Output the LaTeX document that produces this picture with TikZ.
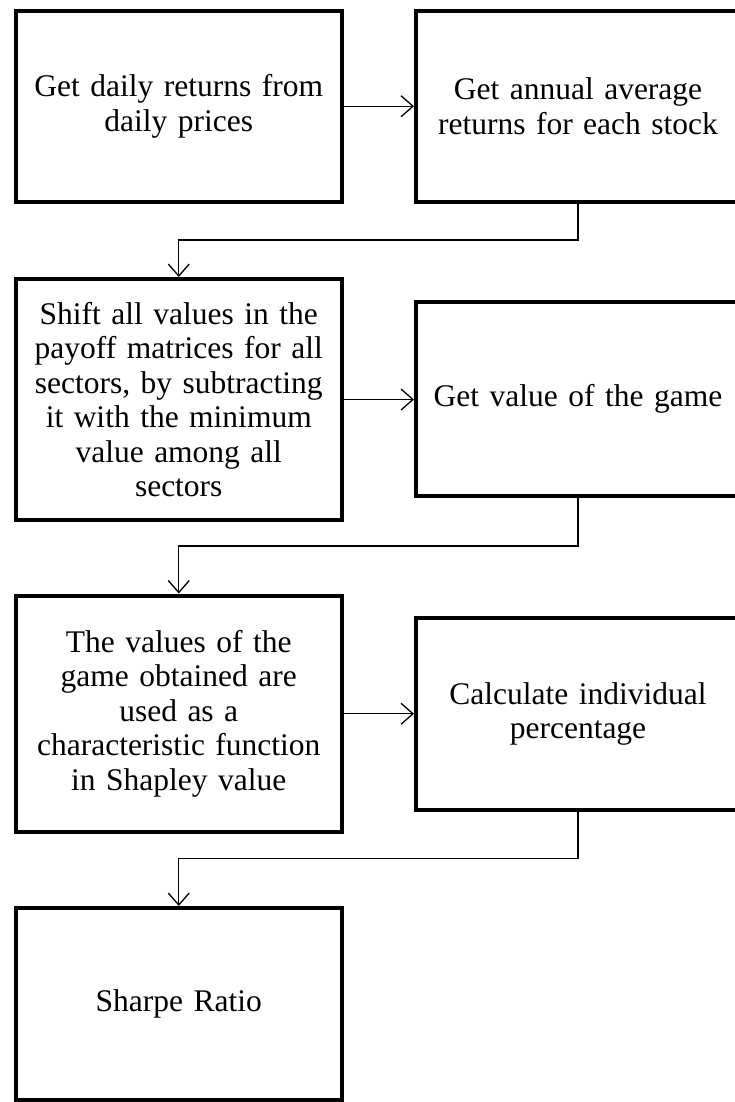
\documentclass[tikz,border=0pt]{standalone}
\usepackage{fontspec}
\setmainfont{Liberation Serif}
\usetikzlibrary{arrows.meta}
\begin{document}
\begin{tikzpicture}[x=1pt,y=-1pt,
  box/.style={draw, line width=4pt, rectangle, inner sep=0pt, align=center,
    text width=318pt, font=\fontsize{31.5}{34.5}\selectfont},
  lbox/.style={box, minimum width=325.5pt},
  rbox/.style={box, minimum width=324pt},
  conn/.style={line width=1.3pt, -{Straight Barb[length=12pt,width=21pt,line width=1.3pt]}}]
\useasboundingbox (0,0) rectangle (735,1102);
\node[lbox, minimum height=190.5pt] (b1) at (178.75,106.25) {Get daily returns from\\daily prices};
\node[rbox, minimum height=190.5pt] (b2) at (578,106.25) {Get annual average\\returns for each stock};
\node[lbox, minimum height=241pt] (b3) at (178.75,399.5) {Shift all values in the\\payoff matrices for all\\sectors, by subtracting\\it with the minimum\\value among all\\sectors};
\node[rbox, minimum height=193.5pt] (b4) at (578,398.75) {Get value of the game};
\node[lbox, minimum height=236.5pt] (b5) at (178.75,713.75) {The values of the\\game obtained are\\used as a\\characteristic function\\in Shapley value};
\node[rbox, minimum height=192.5pt] (b6) at (578,713.75) {Calculate individual\\percentage};
\node[lbox, minimum height=192pt] (b7) at (178.75,1004) {Sharpe Ratio};
\coordinate (k1) at (0,240);
\coordinate (k2) at (0,546);
\coordinate (k3) at (0,858.5);
\draw[conn] (b1.east) -- (b2.west |- b1.east);
\draw[conn] (b3.east) -- (b4.west |- b3.east);
\draw[conn] (b5.east) -- (b6.west |- b5.east);
\draw[conn] (b2.south) -- (b2.south |- k1) -- (b3.north |- k1) -- (b3.north);
\draw[conn] (b4.south) -- (b4.south |- k2) -- (b5.north |- k2) -- (b5.north);
\draw[conn] (b6.south) -- (b6.south |- k3) -- (b7.north |- k3) -- (b7.north);
\end{tikzpicture}
\end{document}
